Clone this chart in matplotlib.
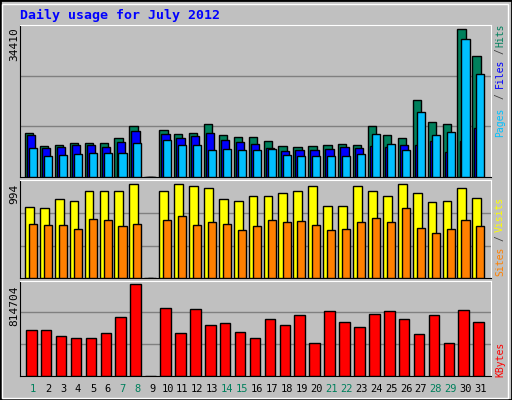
import matplotlib
matplotlib.use("Agg")
import matplotlib.pyplot as plt
import numpy as np

days = list(range(1, 32))
weekend = [1, 7, 8, 14, 15, 21, 22, 28, 29]

# values (day 9 has no data)
hits = [10100, 7160, 7320, 7780, 7780, 7780, 8950, 11750, 0, 10820, 9890, 10100, 12220, 9650, 9190,
        9190, 8250, 7160, 6850, 7160, 7320, 7550, 7320, 11750, 9650, 8950, 17900, 12690, 12220, 34410, 28100]
files = [9650, 6620, 6850, 7320, 7320, 6850, 8020, 10590, 0, 9890, 8950, 9420, 10100, 8490, 8020,
         7550, 6620, 5920, 6150, 6150, 6380, 6850, 6620, 7160, 6850, 7320, 7320, 8250, 5680, 8250, 11290]
pages = [6620, 4750, 4980, 5220, 5450, 5450, 5450, 7780, 0, 8490, 7320, 7320, 6150, 6380, 6150,
         6150, 6380, 4980, 4750, 4750, 4750, 4750, 5220, 9890, 7550, 6150, 15020, 9650, 10350, 32070, 23900]
visits = [756, 745, 843, 821, 929, 929, 929, 994, 0, 929, 994, 972, 951, 843, 821,
          875, 875, 907, 929, 972, 767, 767, 972, 929, 875, 994, 907, 810, 821, 951, 853]
sites = [572, 562, 562, 518, 626, 616, 551, 572, 0, 616, 659, 562, 594, 572, 508,
         551, 616, 594, 605, 562, 508, 518, 594, 637, 594, 745, 529, 475, 518, 616, 551]
kbytes = [404300, 404300, 350800, 333000, 333000, 377600, 520300, 814704, 0, 600500, 377600, 591600,
          448900, 466700, 386500, 333000, 502400, 448900, 538100, 288400, 573800, 475600, 431100,
          547000, 573800, 502400, 368700, 538100, 288400, 582700, 475600]

W, H = 512, 400
bg = "#c0c0c0"
fig = plt.figure(figsize=(W / 100, H / 100), dpi=100, facecolor=bg)

# raised frame
fig.patches.append(plt.Rectangle((0, 0), 1, 1, transform=fig.transFigure, fill=False,
                                 edgecolor="black", linewidth=2))
fig.patches.append(plt.Rectangle((2 / W, 2 / H), 1 - 6 / W, 1 - 6 / H, transform=fig.transFigure,
                                 fill=False, edgecolor="white", linewidth=1))


def make_ax(top, bottom):
    ax = fig.add_axes([20 / W, 1 - bottom / H, (490.7 - 20) / W, (bottom - top) / H])
    ax.set_facecolor(bg)
    ax.set_xlim(0.108, 31.67)
    ax.set_xticks([])
    ax.set_yticks([])
    for s in ["left", "bottom"]:
        ax.spines[s].set_color("black")
    for s in ["top", "right"]:
        ax.spines[s].set_color("white")
    return ax


def bars(ax, vals, left, width, color):
    x = np.array(days) + left
    ax.bar(x, vals, width=width, align="edge", color=color, edgecolor="black", linewidth=1, zorder=3)


def grid(ax, ymax):
    ax.set_ylim(0, ymax)
    for f in (1 / 3, 2 / 3):
        ax.axhline(ymax * f, color="#808080", linewidth=1, zorder=1)


mono = "DejaVu Sans Mono"

ax1 = make_ax(25, 176.7)
grid(ax1, 34410 * 455 / 442)
bars(ax1, hits, -0.56, 0.56, "#00805c")
bars(ax1, files, -0.42, 0.56, "#0000ff")
bars(ax1, pages, -0.29, 0.54, "#00c0ff")

ax2 = make_ax(180, 278.3)
grid(ax2, 994 * 289 / 276)
bars(ax2, visits, -0.56, 0.59, "#ffff00")
bars(ax2, sites, -0.29, 0.54, "#ff8000")

ax3 = make_ax(280.7, 375.7)
grid(ax3, 814704 * 285 / 274)
bars(ax3, kbytes, -0.49, 0.71, "#ff0000")

# day labels
for d in days:
    c = "#00805c" if d in weekend else "black"
    fig.text((33.3 + (d - 1) * 14.91) / W, 1 - 389 / H, str(d), color=c, fontsize=7.5,
             family=mono, ha="center", va="center")

fig.text(20 / W, 1 - 15 / H, "Daily usage for July 2012", color="#0000ff", fontsize=9.5,
         family=mono, fontweight="bold", ha="left", va="center")

# left max labels
for txt, y in [("34410", 27), ("994", 184), ("814704", 285)]:
    fig.text(14 / W, 1 - y / H, txt, rotation=90, fontsize=8, family=mono, ha="center", va="top")

# right legends
for txt, y, c in [("Hits", 35.5, "#00805c"), ("/", 51, "#404040"), ("Files", 73.5, "#0000ff"),
                  ("/", 96, "#404040"), ("Pages", 122, "#00c0ff"),
                  ("Visits", 214, "#ffff00"), ("/", 238, "#404040"), ("Sites", 261, "#ff8000"),
                  ("KBytes", 359, "#ff0000")]:
    fig.text(500 / W, 1 - y / H, txt, rotation=90, fontsize=7, family=mono, color=c,
             ha="center", va="center")

fig.savefig("out.png", dpi=100, facecolor=bg)
